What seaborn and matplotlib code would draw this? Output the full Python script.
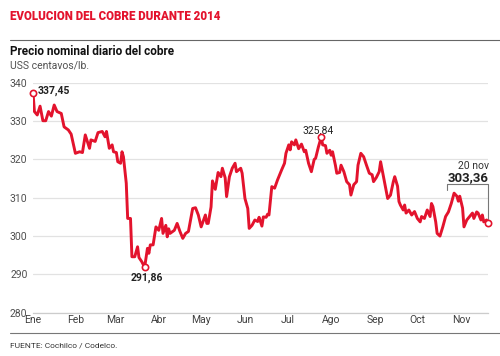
import matplotlib
matplotlib.use("Agg")
import matplotlib.pyplot as plt
import pandas as pd
import seaborn as sns

# precio nominal diario del cobre 2014 (USS centavos/lb)
fechas = [
    "01-02", "01-03", "01-05", "01-07", "01-09", "01-11", "01-13", "01-15", "01-17", "01-19",
    "01-22", "01-24", "01-27", "01-29",
    "02-01", "02-04", "02-06", "02-08", "02-11", "02-12", "02-15", "02-17", "02-20", "02-22",
    "02-23", "02-25", "02-27", "02-28",
    "03-02", "03-03", "03-05", "03-06", "03-07", "03-09", "03-10", "03-12", "03-13", "03-15",
    "03-17", "03-18", "03-20", "03-22", "03-24", "03-25", "03-26", "03-28", "03-30",
    "04-01", "04-03", "04-04", "04-06", "04-07", "04-08", "04-09", "04-12", "04-14", "04-16",
    "04-18", "04-20", "04-22", "04-25", "04-27", "04-29",
    "05-01", "05-04", "05-05", "05-06", "05-08", "05-09", "05-11", "05-13", "05-15", "05-16",
    "05-18", "05-19", "05-21", "05-23", "05-25", "05-26", "05-29", "05-30",
    "06-01", "06-03", "06-04", "06-06", "06-08", "06-10", "06-11", "06-13", "06-14", "06-16",
    "06-17", "06-18", "06-20", "06-22", "06-24", "06-26", "06-27", "06-29", "06-30",
    "07-02", "07-03", "07-04", "07-06", "07-07", "07-09", "07-11", "07-13", "07-14", "07-16",
    "07-18", "07-20", "07-21", "07-23", "07-25", "07-26", "07-28", "07-29", "07-31",
    "08-01", "08-02", "08-04", "08-05", "08-07", "08-08", "08-10", "08-12", "08-14", "08-15",
    "08-17", "08-19", "08-20", "08-22", "08-24", "08-26", "08-28", "08-30", "08-31",
    "09-02", "09-04", "09-05", "09-07", "09-08", "09-10", "09-12", "09-14", "09-15", "09-17",
    "09-18", "09-19", "09-21", "09-22", "09-23", "09-25", "09-27", "09-29",
    "10-01", "10-03", "10-04", "10-06", "10-08", "10-10", "10-11", "10-12", "10-14", "10-15",
    "10-17", "10-19", "10-21", "10-23", "10-25", "10-27", "10-29", "10-30", "10-31",
    "11-02", "11-03", "11-05", "11-07", "11-09", "11-10", "11-12", "11-13", "11-15", "11-16",
    "11-17", "11-19", "11-20",
]
precios = [
    337.45, 332.5, 331.6, 333.9, 330.1, 330.1, 332.5, 331.3, 334.2, 332.5,
    332.0, 328.5, 327.7, 326.6,
    321.6, 322.0, 321.8, 326.4, 322.9, 325.1, 324.7, 327.0, 327.3, 325.9,
    327.3, 322.9, 323.8, 322.0,
    321.8, 319.4, 319.0, 322.0, 320.7, 313.8, 304.6, 304.6, 294.6, 294.6,
    297.2, 294.4, 293.3, 291.86, 296.8, 295.5, 297.7, 297.7, 302.4,
    301.5, 304.6, 300.7, 302.8, 299.8, 301.9, 300.7, 301.5, 303.3, 301.2,
    299.4, 300.7, 301.2, 307.2, 307.4, 305.5,
    302.4, 305.5, 303.3, 303.3, 307.6, 314.4, 312.2, 316.6, 315.5, 317.7,
    315.2, 310.3, 315.5, 317.7, 319.0, 316.8, 317.7, 316.4,
    309.8, 307.2, 302.0, 302.8, 304.2, 303.8, 304.9, 302.6, 305.0, 304.9,
    305.7, 305.5, 312.9, 312.5, 314.6, 316.4, 317.3, 319.0, 321.6,
    323.8, 322.5, 324.6, 323.8, 325.1, 322.8, 324.0, 322.0, 322.4, 319.0,
    316.8, 320.0, 320.3, 323.3, 325.84, 323.8, 323.6, 321.6, 322.4,
    321.1, 322.0, 318.5, 316.4, 316.6, 318.5, 316.8, 314.2, 313.4, 310.7,
    313.4, 314.2, 318.5, 321.6, 320.7, 318.5, 316.4, 316.0, 314.2,
    315.3, 316.8, 319.4, 315.5, 313.4, 309.8, 310.7, 314.2, 315.5, 313.0,
    309.0, 308.1, 306.8, 308.1, 306.0, 306.8, 305.5, 306.4,
    304.6, 303.7, 305.1, 304.6, 306.8, 305.1, 308.5, 307.7, 303.7, 300.7,
    300.0, 302.4, 305.1, 306.3, 308.5, 311.2, 310.4, 309.1, 310.4,
    307.3, 302.4, 304.2, 305.1, 306.0, 304.6, 306.3, 306.0, 304.2, 305.5,
    303.7, 304.2, 303.36,
]
meses = ["Ene", "Feb", "Mar", "Abr", "May", "Jun", "Jul", "Ago", "Sep", "Oct", "Nov"]
inicio_meses = ["01-02", "02-01", "03-01", "04-01", "05-01", "06-01",
                "07-01", "08-01", "09-01", "10-01", "11-01"]
y_ticks = [280, 290, 300, 310, 320, 330, 340]

ROJO = "#e3132d"
GRIS = "#505050"

df = pd.DataFrame({"fecha": pd.to_datetime(["2014-" + f for f in fechas]), "precio": precios})

sns.set_style("white")
plt.rcParams["font.family"] = ["Roboto", "DejaVu Sans"]

fig = plt.figure(figsize=(5, 3.56), dpi=100)
ax = fig.add_axes([33 / 500, 43.3 / 356, 455 / 500, 229.9 / 356])

sns.lineplot(data=df, x="fecha", y="precio", ax=ax, color=ROJO, linewidth=2.1, zorder=3)

ax.set_xlim(df["fecha"].iloc[0], df["fecha"].iloc[-1])
ax.set_ylim(280, 340)
ax.set_yticks(y_ticks)
ax.set_yticklabels([str(t) for t in y_ticks], fontsize=7.5, color=GRIS)
ax.set_xticks(pd.to_datetime(["2014-" + m for m in inicio_meses]))
ax.set_xticklabels(meses, fontsize=7.5, color="#404040")
ax.set_xlabel("")
ax.set_ylabel("")
ax.grid(axis="y", color="#e2e2e2", linewidth=0.9)
ax.tick_params(axis="y", length=0, pad=4)
ax.tick_params(axis="x", direction="in", length=3, color="#bbbbbb", pad=2)
for s in ["top", "left", "right"]:
    ax.spines[s].set_visible(False)
ax.spines["bottom"].set_color("#cccccc")
ax.spines["bottom"].set_linewidth(0.9)

# puntos destacados
i_ini = 0
i_min = precios.index(min(precios))
i_max = precios.index(max(precios[100:]))
i_fin = len(precios) - 1
for i in [i_ini, i_min, i_max, i_fin]:
    ax.plot(df["fecha"].iloc[i], precios[i], marker="o", ms=4.5, mfc="white",
            mec=ROJO, mew=1.2, zorder=5, clip_on=False)


def fmt(v):
    return f"{v:.2f}".replace(".", ",")


ax.annotate(fmt(precios[i_ini]), (df["fecha"].iloc[i_ini], precios[i_ini]),
            xytext=(5, 2), textcoords="offset pixels", ha="left", va="center",
            fontsize=7.5, fontweight="bold", color="#222222")
ax.annotate(fmt(precios[i_min]), (df["fecha"].iloc[i_min], precios[i_min]),
            xytext=(2, -5), textcoords="offset pixels", ha="center", va="top",
            fontsize=7.5, fontweight="bold", color="#222222")
ax.annotate(fmt(precios[i_max]), (df["fecha"].iloc[i_max], precios[i_max]),
            xytext=(-3, 7), textcoords="offset pixels", ha="center", va="center",
            fontsize=7.5, color="#222222")

f_fin = df["fecha"].iloc[i_fin]
v_fin = precios[i_fin]
ax.annotate(fmt(v_fin), (f_fin, v_fin), xytext=(1, 42), textcoords="offset pixels",
            ha="right", va="baseline", fontsize=9.5, fontweight="bold", color="#222222",
            annotation_clip=False)
ax.annotate("20 nov", (f_fin, v_fin), xytext=(1, 54), textcoords="offset pixels",
            ha="right", va="baseline", fontsize=7.5, color="#333333", annotation_clip=False)
f_izq = f_fin - pd.Timedelta(days=29)
ax.plot([f_izq, f_izq, f_fin, f_fin], [v_fin + 8.6, v_fin + 10.2, v_fin + 10.2, v_fin + 1],
        color="#777777", linewidth=0.8, zorder=2, clip_on=False)

# textos de cabecera y pie
fig.text(10 / 500, 1 - 20 / 356, "EVOLUCION DEL COBRE DURANTE 2014", ha="left",
         va="baseline", fontsize=8.3, fontweight="black", color=ROJO)
fig.add_artist(plt.Line2D([10 / 500, 1], [1 - 40 / 356] * 2, color="#666666", linewidth=0.8))
fig.text(10 / 500, 1 - 55 / 356, "Precio nominal diario del cobre", ha="left",
         va="baseline", fontsize=8.5, fontweight="bold", color="#111111")
fig.text(10 / 500, 1 - 68.3 / 356, "USS centavos/lb.", ha="left", va="baseline",
         fontsize=7.5, color=GRIS)
fig.add_artist(plt.Line2D([10 / 500, 1], [1 - 332.7 / 356] * 2, color="#777777", linewidth=0.8))
fig.text(10 / 500, 1 - 347.3 / 356, "FUENTE: Cochilco / Codelco.", ha="left",
         va="baseline", fontsize=6, color="#333333")

fig.savefig("out.png", dpi=100)
